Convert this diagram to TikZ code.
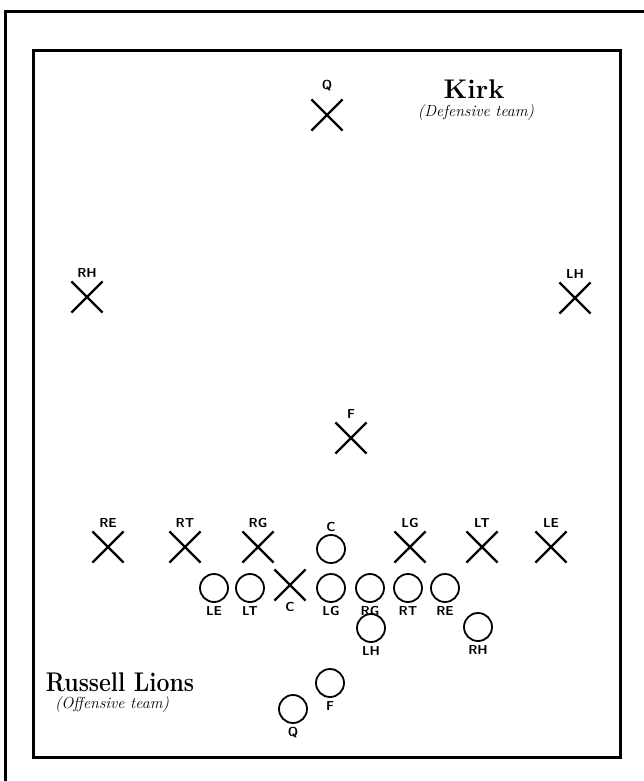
\documentclass[tikz,border=0pt]{standalone}
\usepackage{tikz}
\usetikzlibrary{shapes.misc}

\begin{document}
\begin{tikzpicture}[x=1pt,y=-1pt]
  \tikzstyle{dfn}=[cross out,draw,line width=2.2pt,minimum size=29pt,inner sep=0pt,
    label distance=1pt]
  \tikzstyle{ofn}=[circle,draw,line width=1.8pt,minimum size=28pt,inner sep=0pt,
    label distance=-3pt]
  \tikzstyle{every label}=[font=\sffamily\bfseries\fontsize{13}{13}\selectfont]
  \useasboundingbox (0,0) rectangle (644,781);
  \fill[white] (0,0) rectangle (644,781);

  % frames
  \draw[line width=3pt] (5,781) -- (5,12) -- (644,12);
  \draw[line width=3pt] (33,51) rectangle (620,757);

  % defensive team
  \node[dfn,label={[label distance=5pt]above:Q}] (dQ) at (327,115) {};
  \node[dfn,label=above:RH] (dRH) at (87,297) {};
  \node[dfn,label=above:LH] (dLH) at (575,298) {};
  \node[dfn,label=above:F] (dF) at (351,438) {};
  \node[dfn,label=above:RE] (dRE) at (108,547) {};
  \node[dfn,label=above:RT] (dRT) at (185,547) {};
  \node[dfn,label=above:RG] (dRG) at (258,547) {};
  \node[dfn,label=above:LG] (dLG) at (410,547) {};
  \node[dfn,label=above:LT] (dLT) at (482,547) {};
  \node[dfn,label=above:LE] (dLE) at (551,547) {};
  \node[dfn,label={[label distance=-2pt]below:C}] (dC) at (290,585) {};

  % offensive team
  \node[ofn,label={[label distance=-1pt]above:C}] (oC) at (331,549) {};
  \node[ofn,label=below:LE] (oLE) at (214,588) {};
  \node[ofn,label=below:LT] (oLT) at (250,588) {};
  \node[ofn,label=below:LG] (oLG) at (331,588) {};
  \node[ofn,label=below:RG] (oRG) at (370,588) {};
  \node[ofn,label=below:RT] (oRT) at (408,588) {};
  \node[ofn,label=below:RE] (oRE) at (445,588) {};
  \node[ofn,label=below:LH] (oLH) at (371,628) {};
  \node[ofn,label=below:RH] (oRH) at (478,627) {};
  \node[ofn,label=below:F] (oF) at (330,683) {};
  \node[ofn,label=below:Q] (oQ) at (293,709) {};

  % team names
  \node[anchor=base,font=\bfseries\fontsize{27}{27}\selectfont] (kirk) at (474,99) {Kirk};
  \node[font=\itshape\fontsize{16}{16}\selectfont] (kirkrole) at (476,113) {(Defensive team)};
  \node[anchor=base,xscale=0.85,font=\bfseries\fontsize{27}{27}\selectfont] (lions) at (120,691) {Russell Lions};
  \node[font=\itshape\fontsize{16}{16}\selectfont] (lionsrole) at (112,704) {(Offensive team)};
\end{tikzpicture}
\end{document}
